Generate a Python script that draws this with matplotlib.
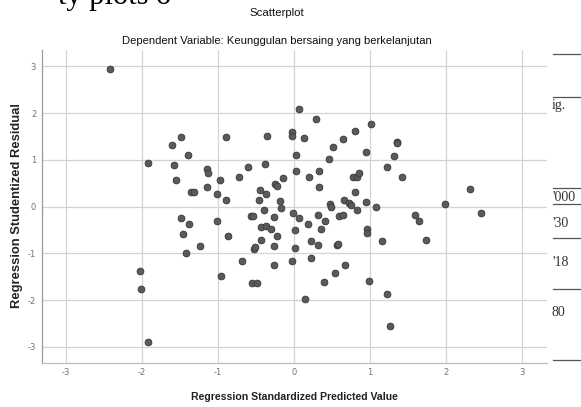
"""
SPSS-style residual scatterplot: studentized residual vs standardized
predicted value for the 'Keunggulan bersaing yang berkelanjutan' model.
"""

import matplotlib

matplotlib.use("Agg")
import matplotlib.pyplot as plt
import numpy as np


TITLE = "Scatterplot"
SUBTITLE = "Dependent Variable: Keunggulan bersaing yang berkelanjutan"
XLABEL = "Regression Standardized Predicted Value"
YLABEL = "Regression Studentized Residual"

TICKS = [-3, -2, -1, 0, 1, 2, 3]

# standardized predicted value (x) and studentized residual (y)
pred_x = [
    -2.42, -1.49, -1.60, -1.39, -1.92, -1.58, -1.56, -1.36, -1.32, -1.49,
    -1.38, -1.46, -1.24, -1.42, -2.03, -2.01, -1.92,
    -0.90, -0.36, -1.15, -1.13, -0.97, -0.60, -0.38, -0.73, -1.14, -1.02,
    -0.89, -0.45, -0.37, -0.46, -0.40, -0.57, -0.54, -0.44, -0.37, -0.31,
    -1.02, -0.87, -0.43, -0.53, -0.51, -0.68, -0.96, -0.55, -0.49,
    0.06, 0.29, -0.03, -0.03, 0.13, 0.51, 0.46, 0.03, 0.02, -0.15,
    0.20, 0.33, 0.33, -0.25, -0.23, -0.19, -0.17, 0.47, 0.49, -0.01,
    0.07, 0.31, 0.41, 0.18, 0.36, -0.26, 0.01, -0.23, 0.22, 0.31,
    -0.26, 0.01, 0.57, 0.58, 0.22, -0.03, -0.26, 0.54, 0.39, 0.14,
    1.01, 0.80, 0.64, 1.35, 1.36, 0.95, 1.32, 1.22, 1.42, 0.77,
    0.83, 0.85, 0.80, 0.66, 0.72, 0.75, 0.95, 1.08, 0.83, 0.59,
    0.64, 1.59, 1.64, 0.96, 0.96, 1.15, 0.67, 0.98, 1.22, 1.26,
    1.74, 1.99, 2.31, 2.46,
]
resid_y = [
    2.94, 1.49, 1.32, 1.11, 0.94, 0.89, 0.57, 0.32, 0.31, -0.24,
    -0.37, -0.58, -0.84, -1.00, -1.38, -1.76, -2.89,
    1.48, 1.52, 0.81, 0.72, 0.56, 0.84, 0.91, 0.64, 0.42, 0.27,
    0.14, 0.36, 0.27, 0.14, -0.07, -0.20, -0.21, -0.43, -0.42, -0.48,
    -0.31, -0.63, -0.72, -0.90, -0.86, -1.17, -1.48, -1.63, -1.64,
    2.09, 1.88, 1.60, 1.51, 1.46, 1.28, 1.02, 1.11, 0.76, 0.61,
    0.63, 0.76, 0.42, 0.49, 0.43, 0.13, -0.03, 0.05, 0.00, -0.13,
    -0.24, -0.18, -0.31, -0.38, -0.47, -0.22, -0.51, -0.63, -0.74, -0.83,
    -0.85, -0.88, -0.82, -0.79, -1.11, -1.16, -1.25, -1.43, -1.61, -1.97,
    1.76, 1.61, 1.45, 1.39, 1.36, 1.16, 1.08, 0.85, 0.63, 0.64,
    0.64, 0.71, 0.31, 0.14, 0.07, 0.04, 0.09, -0.01, -0.07, -0.21,
    -0.17, -0.19, -0.30, -0.48, -0.57, -0.73, -1.24, -1.59, -1.87, -2.56,
    -0.72, 0.05, 0.37, -0.13,
]

# bits of the surrounding document table that show at the right edge
doc_rule_y = [54, 97, 188, 204, 238, 289, 360]
doc_cells = ["ig.", "'000", "'30", "'18", "80"]
doc_cell_y = [106, 197, 223, 263, 313]

W, H = 581, 407

plt.rcParams["axes.unicode_minus"] = False


def px(x, y):
    """pixel position -> figure fraction"""
    return x / W, 1.0 - y / H


def main():
    fig = plt.figure(figsize=(W / 100, H / 100), dpi=100)
    fig.patch.set_facecolor("white")

    ax = fig.add_axes([41.7 / W, 1 - 362.7 / H, (546.5 - 41.7) / W, (362.7 - 50) / H])
    ax.scatter(pred_x, resid_y, s=24, color="#5a5a5a", edgecolors="#383838",
               linewidths=0.6, zorder=3)

    ax.set_xlim(-3.32, 3.32)
    ax.set_ylim(-3.34, 3.35)
    ax.set_xticks(TICKS)
    ax.set_yticks(TICKS)
    ax.grid(True, color="#d4d4d4", lw=0.9, zorder=0)
    ax.tick_params(length=0, labelsize=6, labelcolor="#707070", pad=4)

    for side in ("top", "right"):
        ax.spines[side].set_visible(False)
    ax.spines["left"].set_color("#9a9a9a")
    ax.spines["bottom"].set_color("#bdbdbd")
    ax.spines["left"].set_linewidth(0.9)
    ax.spines["bottom"].set_linewidth(0.9)

    font = ["Liberation Sans", "DejaVu Sans"]
    fig.text(*px(277, 13), TITLE, ha="center", va="center", fontsize=8.2,
             family=font, color="#111111")
    fig.text(*px(277, 41), SUBTITLE, ha="center", va="center", fontsize=8.1,
             family=font, color="#111111")
    fig.text(*px(294, 397), XLABEL, ha="center", va="center", fontsize=7.6,
             fontweight="bold", family=font, color="#222222")
    fig.text(*px(17, 206), YLABEL, ha="center", va="center", rotation=90,
             fontsize=9.4, fontweight="bold", family=font, color="#222222")

    # cropped heading of the page above the chart
    fig.text(*px(58, 4), "ty plots o", ha="left", va="baseline", fontsize=22,
             family="Liberation Serif", color="black")

    # table fragments at the right edge
    for y in doc_rule_y:
        fig.add_artist(plt.Line2D([553 / W, 1.0], [1 - y / H] * 2,
                                  color="#555555", lw=0.9))
    for label, y in zip(doc_cells, doc_cell_y):
        fig.text(*px(552, y), label, ha="left", va="center", fontsize=10,
                 family="Liberation Serif", color="#333333")

    fig.savefig("out.png", dpi=100)
    plt.close(fig)


if __name__ == "__main__":
    main()
